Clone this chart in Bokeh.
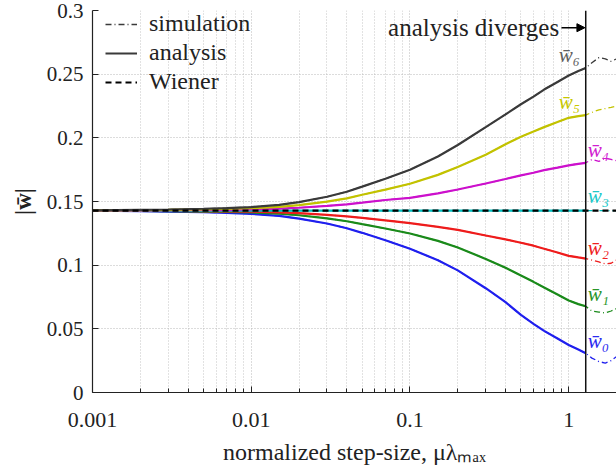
import numpy as np
from bokeh.plotting import figure
from bokeh.models import (ColumnDataSource, Span, Legend, LegendItem, FixedTicker,
                          Arrow, NormalHead, Label)
from bokeh.core.properties import value
from bokeh.embed import file_html
from bokeh.resources import INLINE

# ---------------- data ----------------
step = [0.001, 0.002, 0.003, 0.005, 0.007, 0.01, 0.015, 0.02, 0.03, 0.04, 0.05, 0.07,
        0.1, 0.15, 0.2, 0.3, 0.4, 0.5, 0.6, 0.7, 0.85, 1.0, 1.15, 1.28]
an_w6 = [0.1430, 0.1434, 0.1437, 0.1443, 0.1448, 0.1456, 0.1474, 0.1495, 0.1537, 0.1577, 0.1617, 0.1679,
         0.1749, 0.1854, 0.1944, 0.2084, 0.2184, 0.2264, 0.2324, 0.2379, 0.2439, 0.2489, 0.2524, 0.2549]
an_w5 = [0.1430, 0.1432, 0.1434, 0.1438, 0.1441, 0.1447, 0.1458, 0.1472, 0.1499, 0.1525, 0.1553, 0.1593,
         0.1639, 0.1709, 0.1771, 0.1867, 0.1950, 0.2009, 0.2049, 0.2084, 0.2124, 0.2157, 0.2171, 0.2179]
an_w4 = [0.1429, 0.1431, 0.1432, 0.1434, 0.1435, 0.1438, 0.1444, 0.1451, 0.1465, 0.1478, 0.1491, 0.1512,
         0.1529, 0.1564, 0.1594, 0.1641, 0.1677, 0.1705, 0.1726, 0.1746, 0.1766, 0.1784, 0.1796, 0.1804]
an_w3 = [0.1429, 0.1429, 0.1429, 0.1429, 0.1429, 0.1429, 0.1429, 0.1429, 0.1429, 0.1429, 0.1429, 0.1429,
         0.1429, 0.1429, 0.1429, 0.1429, 0.1429, 0.1429, 0.1429, 0.1429, 0.1429, 0.1429, 0.1429, 0.1429]
an_w2 = [0.1429, 0.1427, 0.1426, 0.1425, 0.1423, 0.1421, 0.1415, 0.1408, 0.1395, 0.1383, 0.1371, 0.1352,
         0.1330, 0.1301, 0.1277, 0.1233, 0.1202, 0.1176, 0.1153, 0.1129, 0.1099, 0.1073, 0.1061, 0.1052]
an_w1 = [0.1428, 0.1426, 0.1425, 0.1421, 0.1418, 0.1414, 0.1404, 0.1392, 0.1368, 0.1345, 0.1322, 0.1288,
         0.1249, 0.1191, 0.1139, 0.1049, 0.0979, 0.0919, 0.0869, 0.0824, 0.0769, 0.0723, 0.0694, 0.0677]
an_w0 = [0.1428, 0.1424, 0.1421, 0.1416, 0.1411, 0.1403, 0.1387, 0.1366, 0.1327, 0.1290, 0.1254, 0.1196,
         0.1129, 0.1039, 0.0959, 0.0819, 0.0709, 0.0609, 0.0539, 0.0484, 0.0424, 0.0373, 0.0337, 0.0309]

# simulation continues past the divergence point
sim_tail_step = [1.4, 1.55, 1.7, 1.85, 2.0]
sim_tail_w6 = [0.2590, 0.2630, 0.2620, 0.2600, 0.2620]
sim_tail_w5 = [0.2200, 0.2220, 0.2230, 0.2240, 0.2250]
sim_tail_w4 = [0.1830, 0.1815, 0.1840, 0.1830, 0.1820]
sim_tail_w3 = [0.1429, 0.1429, 0.1429, 0.1429, 0.1429]
sim_tail_w2 = [0.1040, 0.1025, 0.1010, 0.1015, 0.1040]
sim_tail_w1 = [0.0640, 0.0632, 0.0624, 0.0640, 0.0659]
sim_tail_w0 = [0.0270, 0.0243, 0.0231, 0.0250, 0.0282]

wiener_w = 0.1429
wiener_step = [0.001, 2.0]
diverge_step = 1.28

x_ticks = [0.001, 0.01, 0.1, 1]
x_tick_labels = ["0.001", "0.01", "0.1", "1"]
y_ticks = [0, 0.05, 0.1, 0.15, 0.2, 0.25, 0.3]
y_tick_labels = ["0", "0.05", "0.1", "0.15", "0.2", "0.25", "0.3"]

names = ["w\u0304\u2080", "w\u0304\u2081", "w\u0304\u2082", "w\u0304\u2083",
         "w\u0304\u2084", "w\u0304\u2085", "w\u0304\u2086"]

# ---------------- styles / layout ----------------
colors = ["#1f1fee", "#1a8a1a", "#ee1c1c", "#00c0c0", "#cc10cc", "#c2c200", "#3a3a3a"]
label_colors = ["#2b2bf0", "#2a962a", "#ee2020", "#20c8c8", "#d020d0", "#c8c800", "#606060"]
label_x = [1.32, 1.32, 1.32, 1.32, 1.32, 0.865, 0.865]
label_y = [0.0404, 0.077, 0.1135, 0.154, 0.1905, 0.228, 0.265]
SERIF = "Liberation Serif"

an_series = [an_w0, an_w1, an_w2, an_w3, an_w4, an_w5, an_w6]
tail_series = [sim_tail_w0, sim_tail_w1, sim_tail_w2, sim_tail_w3, sim_tail_w4, sim_tail_w5, sim_tail_w6]

p = figure(width=616, height=467, x_axis_type="log", x_range=(0.001, 2.0), y_range=(0, 0.3),
           output_backend="svg", toolbar_location=None,
           min_border_left=92, min_border_right=0, min_border_top=10, min_border_bottom=74)
p.outline_line_color = None
p.background_fill_color = "white"
p.border_fill_color = "white"

# grid
minor = [m * 10.0 ** k for k in range(-3, 1) for m in range(2, 10)]
xt = FixedTicker(ticks=x_ticks, minor_ticks=minor)
yt = FixedTicker(ticks=y_ticks)
p.xaxis.ticker = xt
p.yaxis.ticker = yt
p.xgrid.ticker = xt
p.ygrid.ticker = yt
for g in (p.xgrid, p.ygrid):
    g.grid_line_color = "#b8b8b8"
    g.grid_line_dash = "1 2"
    g.grid_line_width = 1
p.xgrid.minor_grid_line_color = "#c4c4c4"
p.xgrid.minor_grid_line_dash = "1 2"

# axes
for ax in (p.xaxis, p.yaxis):
    ax.axis_line_color = "#222222"
    ax.axis_line_width = 1.2
    ax.major_tick_in = 6
    ax.major_tick_out = 0
    ax.minor_tick_in = 4
    ax.minor_tick_out = 0
    ax.major_tick_line_color = "#222222"
    ax.minor_tick_line_color = "#222222"
    ax.major_label_text_font = SERIF
    ax.major_label_text_font_size = "22px"
    ax.major_label_text_color = "#222222"
    ax.axis_label_text_font = SERIF
    ax.axis_label_text_font_size = "23px"
    ax.axis_label_text_color = "#222222"
p.yaxis.major_label_text_font_size = "21px"
p.yaxis.minor_tick_line_color = None
p.xaxis.major_label_overrides = {float(t): s for t, s in zip(x_ticks, x_tick_labels)}
p.yaxis.major_label_overrides = {float(t): s for t, s in zip(y_ticks, y_tick_labels)}
p.xaxis.major_label_standoff = 20
p.yaxis.major_label_standoff = 9
p.xaxis.axis_label = "normalized step-size, \u03bc\u03bb\u2098\u2090\u2093"
p.xaxis.axis_label_text_font_style = "normal"
p.xaxis.axis_label_text_font_size = "24px"
p.xaxis.axis_label_standoff = 9
p.yaxis.axis_label = "|w\u0304|"
p.yaxis.axis_label_text_font_style = "bold"
p.yaxis.axis_label_standoff = 8

# simulation (dash-dot) then analysis (solid)
sim_renderers = []
an_renderers = []
for k in range(7):
    sx = step + sim_tail_step
    sy = an_series[k] + tail_series[k]
    r = p.line(sx, sy, line_color=colors[k], line_width=1.3, line_dash="6 3 1 3")
    sim_renderers.append(r)
for k in range(7):
    r = p.line(step, an_series[k], line_color=colors[k], line_width=2.2)
    an_renderers.append(r)

# Wiener solution
wr = p.line(wiener_step, [wiener_w, wiener_w], line_color="black", line_width=2.2, line_dash="6 4")

# divergence line
p.add_layout(Span(location=diverge_step, dimension="height", line_color="#111111", line_width=1.5))
p.add_layout(Arrow(end=NormalHead(size=8, fill_color="black", line_color="black"),
                   x_start=0.9, y_start=0.2865, x_end=1.265, y_end=0.2865,
                   line_color="black", line_width=1.5))
p.add_layout(Label(x=0.87, y=0.2865, text="analysis diverges", text_align="right",
                   text_baseline="middle", text_font=SERIF, text_font_size="25px",
                   text_color="#222222"))

# curve labels
src = ColumnDataSource(dict(x=label_x, y=label_y, t=names, c=label_colors))
p.text(x="x", y="y", text="t", text_color="c", source=src, text_font=value(SERIF),
       text_font_size="21px", text_font_style="italic", text_align="left",
       text_baseline="middle")

legend = Legend(items=[LegendItem(label="simulation", renderers=[sim_renderers[6]]),
                       LegendItem(label="analysis", renderers=[an_renderers[6]]),
                       LegendItem(label="Wiener", renderers=[wr])],
                location=(13, 297), background_fill_alpha=0, border_line_color=None,
                label_text_font=SERIF, label_text_font_size="24px", label_text_color="#222222",
                glyph_width=32, glyph_height=26, label_height=26, spacing=2,
                label_standoff=12, padding=1, margin=0)
p.add_layout(legend)

open("out.html", "w").write(file_html(p, INLINE))
